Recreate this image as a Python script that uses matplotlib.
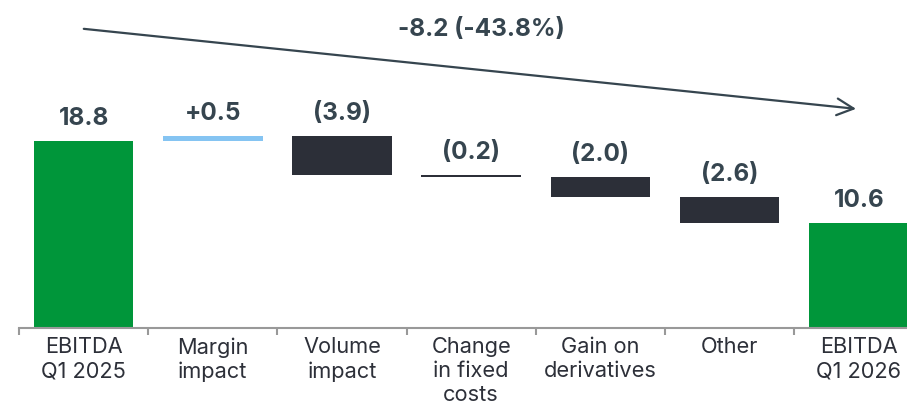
import matplotlib.pyplot as plt
import numpy as np

# data
categories = ['EBITDA\nQ1 2025', 'Margin\nimpact', 'Volume\nimpact', 'Change\nin fixed\ncosts',
              'Gain on\nderivatives', 'Other', 'EBITDA\nQ1 2026']
values = [18.8, 0.5, -3.9, -0.2, -2.0, -2.6, 10.6]
labels = ['18.8', '+0.5', '(3.9)', '(0.2)', '(2.0)', '(2.6)', '10.6']
change_label = '-8.2 (-43.8%)'

green = '#00963A'
light_blue = '#85C4F2'
dark = '#2C2F38'
slate = '#36454F'

plt.rcParams['font.family'] = ['Inter', 'DejaVu Sans']

fig = plt.figure(figsize=(9.07, 4.06), dpi=100)
ax = fig.add_axes([19 / 907, 77 / 406, 904.4 / 907, 329 / 406])

x = np.arange(len(values))
bottoms = []
heights = []
colors = []
running = 0
for i, v in enumerate(values):
    if i == 0 or i == len(values) - 1:
        bottoms.append(0)
        heights.append(v)
        colors.append(green)
        running = v
    else:
        bottoms.append(min(running, running + v))
        heights.append(abs(v))
        colors.append(light_blue if v > 0 else dark)
        running += v

ax.bar(x, heights, bottom=bottoms, width=0.77, color=colors, linewidth=0)

for i in range(len(values)):
    top = bottoms[i] + heights[i]
    ax.annotate(labels[i], (x[i], top), xytext=(0, 12), textcoords='offset points',
                ha='center', va='baseline', fontsize=17.5, fontweight='bold', color=slate)

# overall change arrow
ax.annotate('', xy=(6, 22.0), xytext=(-0.02, 30.1),
            arrowprops=dict(arrowstyle='->', color=slate, lw=1.6, mutation_scale=30))
ax.text(3.08, 30.1, change_label, ha='center', va='center', fontsize=17.5,
        fontweight='bold', color=slate)

ax.set_xlim(-0.5, len(values) - 0.5)
ax.set_ylim(0, 33.07)
ax.set_xticks(x)
ax.set_xticklabels(categories, fontsize=15.7, color='#2D3039', linespacing=1.24)
ax.set_xticks(np.arange(-0.5, len(values), 1), minor=True)
ax.tick_params(axis='x', which='major', length=0, pad=6)
ax.tick_params(axis='x', which='minor', length=5, width=1.5, color='#999999')
ax.set_yticks([])
for s in ['top', 'right', 'left']:
    ax.spines[s].set_visible(False)
ax.spines['bottom'].set_color('#999999')
ax.spines['bottom'].set_linewidth(1.5)

fig.savefig('out.png', dpi=100)
